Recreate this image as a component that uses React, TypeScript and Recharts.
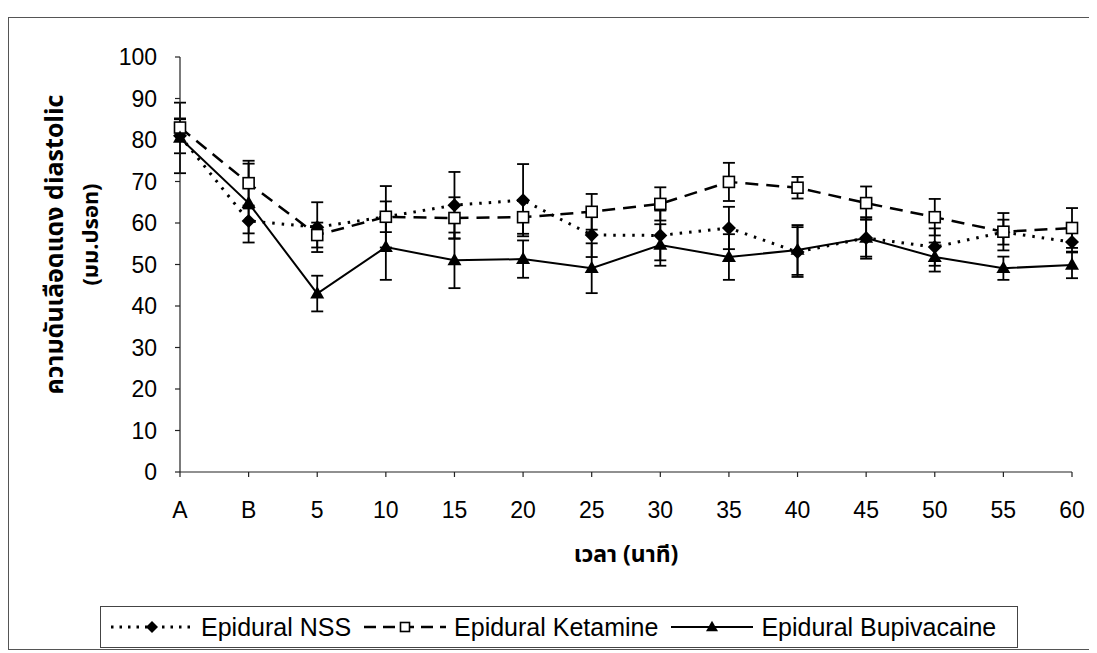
import { LineChart, Line, XAxis, YAxis, ErrorBar } from "recharts";

// time points: A, B = baseline readings, then minutes after injection
const timePoints = ["A", "B", "5", "10", "15", "20", "25", "30", "35", "40", "45", "50", "55", "60"];

// diastolic pressure (mmHg), mean and SD per group
const nssMean = [81, 60.5, 59, 61.5, 64.3, 65.5, 57.1, 57, 58.8, 53, 56.4, 54.2, 57.8, 55.4];
const nssSd = [4.2, 3, 6, 7.4, 8, 8.7, 5.3, 6, 5.1, 6, 5, 4.5, 3, 2.5];

const ketMean = [83, 69.6, 57.1, 61.5, 61.2, 61.4, 62.7, 64.6, 69.9, 68.5, 64.8, 61.4, 57.9, 58.8];
const ketSd = [2, 5.4, 3, 3.7, 5, 4, 4.3, 4, 4.6, 2.6, 4, 4.4, 4.5, 4.8];

const bupMean = [80.5, 64.8, 43, 54.2, 51, 51.3, 49.1, 54.7, 51.8, 53.5, 56.4, 51.8, 49.1, 49.9];
const bupSd = [8.5, 9.5, 4.3, 7.9, 6.7, 4.5, 6, 5, 5.5, 6, 4.5, 3.5, 2.8, 3.2];

const yTicks = [0, 10, 20, 30, 40, 50, 60, 70, 80, 90, 100];

const rows = timePoints.map((t, i) => ({
  t,
  nss: nssMean[i],
  nssSd: nssSd[i],
  ket: ketMean[i],
  ketSd: ketSd[i],
  bup: bupMean[i],
  bupSd: bupSd[i],
}));

const FONT = "'Liberation Sans', Arial, sans-serif";
const THAI_FONT = "'Noto Sans Thai', 'Noto Sans Thai UI', Loma, Garuda, Tahoma, 'Noto Sans', sans-serif";

const Diamond = ({ cx, cy, r = 7 }: any) => (
  <polygon points={`${cx},${cy - r} ${cx + r},${cy} ${cx},${cy + r} ${cx - r},${cy}`} fill="#000" />
);
const Square = ({ cx, cy, s = 11 }: any) => (
  <rect x={cx - s / 2} y={cy - s / 2} width={s} height={s} fill="#fff" stroke="#000" strokeWidth={1.6} />
);
const Triangle = ({ cx, cy, s = 14 }: any) => {
  const h = s * 0.87;
  return (
    <polygon
      points={`${cx},${cy - h * 0.6} ${cx + s / 2},${cy + h * 0.4} ${cx - s / 2},${cy + h * 0.4}`}
      fill="#000"
    />
  );
};

const dotFor = (Shape: any) => (p: any) => <Shape key={`d-${p.index}`} cx={p.cx} cy={p.cy} />;

const YLabel = ({ viewBox }: any) => {
  const cy = viewBox.y + viewBox.height / 2 - 20;
  return (
    <g fontFamily={THAI_FONT} fontWeight="bold" fill="#000">
      <text
        x={47}
        y={cy}
        fontSize={25}
        textAnchor="middle"
        dominantBaseline="central"
        transform={`rotate(-90 47 ${cy})`}
      >
        ความดันเลือดแดง diastolic
      </text>
      <text
        x={83}
        y={cy - 10}
        fontSize={22}
        textAnchor="middle"
        dominantBaseline="central"
        transform={`rotate(-90 83 ${cy - 10})`}
      >
        (มม.ปรอท)
      </text>
    </g>
  );
};

const XLabel = ({ viewBox }: any) => (
  <text
    x={viewBox.x + viewBox.width / 2}
    y={547}
    textAnchor="middle"
    dominantBaseline="central"
    fontFamily={THAI_FONT}
    fontWeight="bold"
    fontSize={23}
    fill="#000"
  >
    เวลา (นาที)
  </text>
);

const legendItems = [
  { name: "Epidural NSS", dash: "2.5 6", width: 3, shape: "diamond" },
  { name: "Epidural Ketamine", dash: "12 7", width: 2.5, shape: "square" },
  { name: "Epidural Bupivacaine", dash: "", width: 2, shape: "triangle" },
];

function LegendBox() {
  return (
    <div
      style={{
        position: "absolute",
        left: 92,
        top: 598,
        width: 918,
        height: 42,
        border: "1.5px solid #444",
        display: "flex",
        alignItems: "center",
        paddingLeft: 9,
        boxSizing: "border-box",
        fontFamily: FONT,
        fontSize: 25,
        background: "#fff",
      }}
    >
      {legendItems.map((it) => (
        <div key={it.name} style={{ display: "flex", alignItems: "center", marginRight: 12 }}>
          <svg width={84} height={20} style={{ marginRight: 7 }}>
            <line
              x1={1}
              y1={10}
              x2={83}
              y2={10}
              stroke="#000"
              strokeWidth={it.width}
              strokeDasharray={it.dash || undefined}
            />
            {it.shape === "diamond" && <Diamond cx={42} cy={10} r={6} />}
            {it.shape === "square" && <Square cx={42} cy={10} s={9} />}
            {it.shape === "triangle" && <Triangle cx={42} cy={10} s={12} />}
          </svg>
          <span>{it.name}</span>
        </div>
      ))}
    </div>
  );
}

export default function App() {
  return (
    <div style={{ position: "relative", width: 1089, height: 645, background: "#fff" }}>
      <div
        style={{
          position: "absolute",
          left: 0,
          top: 9,
          width: 1089,
          height: 633,
          borderTop: "1.5px solid #555",
          borderLeft: "1.5px solid #555",
          borderBottom: "1.5px solid #555",
          boxSizing: "border-box",
        }}
      />
      <LineChart
        width={1089}
        height={645}
        data={rows}
        margin={{ top: 49, right: 25, left: 112, bottom: 121 }}
        style={{ position: "absolute", left: 0, top: 0 }}
      >
        <XAxis
          dataKey="t"
          height={60}
          interval={0}
          tickSize={5}
          tickMargin={25}
          stroke="#222"
          strokeWidth={1.2}
          tick={{ fontFamily: FONT, fontSize: 23, fill: "#000" }}
          label={<XLabel />}
        />
        <YAxis
          width={60}
          domain={[0, 100]}
          ticks={yTicks}
          interval={0}
          tickSize={5}
          tickMargin={18}
          stroke="#222"
          strokeWidth={1.2}
          tick={{ fontFamily: FONT, fontSize: 23, fill: "#000" }}
          label={<YLabel />}
        />
        <Line
          dataKey="nss"
          stroke="#000"
          strokeWidth={3}
          strokeDasharray="2.5 7"
          dot={dotFor(Diamond)}
          activeDot={false}
          isAnimationActive={false}
        >
          <ErrorBar dataKey="nssSd" direction="y" width={6} stroke="#000" strokeWidth={1.8} />
        </Line>
        <Line
          dataKey="ket"
          stroke="#000"
          strokeWidth={2.5}
          strokeDasharray="13 8"
          dot={dotFor(Square)}
          activeDot={false}
          isAnimationActive={false}
        >
          <ErrorBar dataKey="ketSd" direction="y" width={6} stroke="#000" strokeWidth={1.8} />
        </Line>
        <Line
          dataKey="bup"
          stroke="#000"
          strokeWidth={2}
          dot={dotFor(Triangle)}
          activeDot={false}
          isAnimationActive={false}
        >
          <ErrorBar dataKey="bupSd" direction="y" width={6} stroke="#000" strokeWidth={1.8} />
        </Line>
      </LineChart>
      <LegendBox />
    </div>
  );
}
